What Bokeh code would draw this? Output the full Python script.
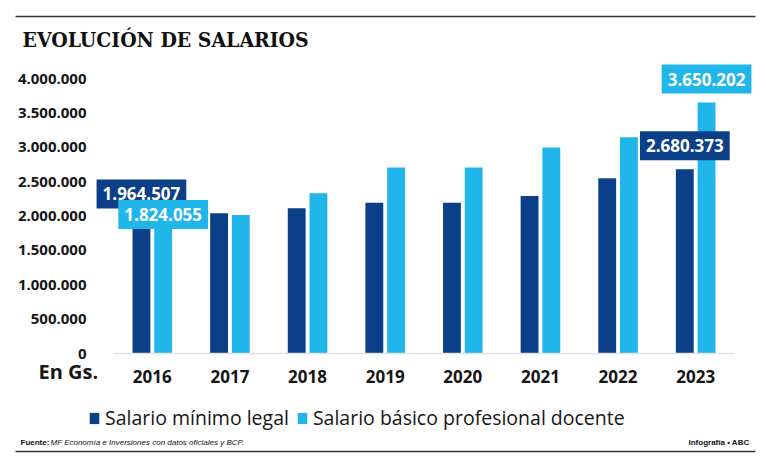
from bokeh.plotting import figure
from bokeh.models import (Range1d, FixedTicker, Label, Legend, LegendItem,
                          ColumnDataSource, LinearAxis)
from bokeh.embed import file_html
from bokeh.resources import INLINE

# ---------------- data ----------------
years = ["2016", "2017", "2018", "2019", "2020", "2021", "2022", "2023"]
salario_minimo = [1964507, 2041123, 2112562, 2192839, 2192839, 2289324, 2550307, 2680373]
salario_docente = [1824055, 2013000, 2332000, 2705000, 2705000, 2995000, 3146000, 3650202]
y_ticks = [0, 500000, 1000000, 1500000, 2000000, 2500000, 3000000, 3500000, 4000000]

series_names = ["Salario mínimo legal", "Salario básico profesional docente"]
title_text = "EVOLUCIÓN DE SALARIOS"
unit_text = "En Gs."
source_bold = "Fuente:"
source_text = "MF Economía e Inversiones con datos oficiales y BCP."
credit_text = "Infografía • ABC"

# value labels shown: (year, series index)
label_years = ["2016", "2016", "2023", "2023"]
label_series = [0, 1, 1, 0]
label_gap_px = [9, -2, 8, 8]

# ---------------- style / layout ----------------
DARK = "#0b3f87"
LIGHT = "#21b6ea"
TXT = "#161616"
W, H = 768, 463
PLOT_L, PLOT_R, BASE = 113, 734, 353   # category band edges and baseline (canvas px)
BAR_W = 0.23
OFF = 0.14
PX_PER_UNIT_Y = 68.75e-6
XU = (PLOT_R - PLOT_L) / len(years)

def X(px):
    return (px - PLOT_L) / XU

def Y(py):
    return (BASE - py) / PX_PER_UNIT_Y

xpos = [i + 0.5 for i in range(len(years))]
src = ColumnDataSource(dict(years=years,
                            x1=[x - OFF for x in xpos], x2=[x + OFF for x in xpos],
                            minimo=salario_minimo, docente=salario_docente))

p = figure(width=W, height=H, x_range=Range1d(X(0), X(W)), y_range=Range1d(Y(H), Y(0)),
           output_backend="svg", toolbar_location=None, min_border=0,
           x_axis_type=None, y_axis_type=None)
p.outline_line_color = None
p.background_fill_color = "white"
p.border_fill_color = "white"
p.grid.grid_line_color = None

r1 = p.vbar(x="x1", top="minimo", width=BAR_W, source=src, fill_color=DARK, line_color=None)
r2 = p.vbar(x="x2", top="docente", width=BAR_W, source=src, fill_color=LIGHT, line_color=None)

# baseline of the category axis
p.segment(x0=[0], x1=[len(years)], y0=[0], y1=[0], line_color="#e2e2e2", line_width=1.5)

# axes (drawn at fixed locations inside the canvas)
yax = LinearAxis(ticker=FixedTicker(ticks=y_ticks), fixed_location=0,
                 major_label_overrides={t: f"{t:,}".replace(",", ".") for t in y_ticks},
                 axis_line_color=None, major_tick_line_color=None, minor_tick_line_color=None,
                 major_label_standoff=21, major_label_text_font="Open Sans",
                 major_label_text_font_style="bold", major_label_text_font_size="15px",
                 major_label_text_color=TXT)
p.add_layout(yax, "left")

xax = LinearAxis(ticker=FixedTicker(ticks=xpos), fixed_location=0,
                 major_label_overrides={x: y for x, y in zip(xpos, years)},
                 axis_line_color=None, major_tick_line_color=None, minor_tick_line_color=None,
                 major_label_standoff=10, major_label_text_font="Open Sans",
                 major_label_text_font_style="bold", major_label_text_font_size="17px",
                 major_label_text_color=TXT)
p.add_layout(xax, "below")

# value labels
vals = [salario_minimo, salario_docente]
cols = [DARK, LIGHT]
bx = [src.data["x1"], src.data["x2"]]
PADH, PADV = 6, 8
for yr, s, gap in zip(label_years, label_series, label_gap_px):
    i = years.index(yr)
    p.add_layout(Label(x=bx[s][i], y=vals[s][i], text=f"{vals[s][i]:,}".replace(",", "."),
                       text_align="center", text_baseline="bottom", y_offset=gap + 1,
                       padding=(PADH, PADV), background_fill_color=cols[s],
                       text_color="white", text_font="Open Sans",
                       text_font_style="bold", text_font_size="17px"))

# legend
legend = Legend(items=[LegendItem(label=series_names[0], renderers=[r1]),
                       LegendItem(label=series_names[1], renderers=[r2])],
                location=(88, H - 431), orientation="horizontal",
                glyph_width=12, glyph_height=14, label_standoff=5, spacing=7,
                padding=0, margin=0, border_line_color=None, background_fill_alpha=0,
                label_text_font="Open Sans", label_text_font_size="19.5px",
                label_text_color=TXT)
p.add_layout(legend, "center")

NARROW = "'Liberation Sans Narrow', 'Liberation Sans', sans-serif"
# title and notes
p.add_layout(Label(x=X(22), y=Y(39), text=title_text, text_baseline="alphabetic",
                   text_font="'DejaVu Serif Condensed', 'Liberation Serif', serif",
                   text_font_style="bold", text_font_size="21px", text_color="#111111"))
p.add_layout(Label(x=X(38), y=Y(371), text=unit_text, text_baseline="alphabetic",
                   text_font="Open Sans", text_font_style="bold",
                   text_font_size="20px", text_color=TXT))
p.add_layout(Label(x=X(20), y=Y(442), text=source_bold, text_baseline="middle",
                   text_font=NARROW, text_font_style="bold", text_font_size="8px",
                   text_color="#111111"))
p.add_layout(Label(x=X(50), y=Y(442), text=source_text, text_baseline="middle",
                   text_font=NARROW, text_font_style="italic", text_font_size="8px",
                   text_color="#111111"))
p.add_layout(Label(x=X(749), y=Y(442), text=credit_text, text_baseline="middle",
                   text_align="right", text_font=NARROW, text_font_style="bold",
                   text_font_size="8px", text_color="#111111"))

# horizontal rules
p.segment(x0=[X(15), X(15)], x1=[X(755), X(755)], y0=[Y(16), Y(451)], y1=[Y(16), Y(451)],
          line_color="#333333", line_width=1.5)

open("out.html", "w").write(file_html(p, INLINE))
